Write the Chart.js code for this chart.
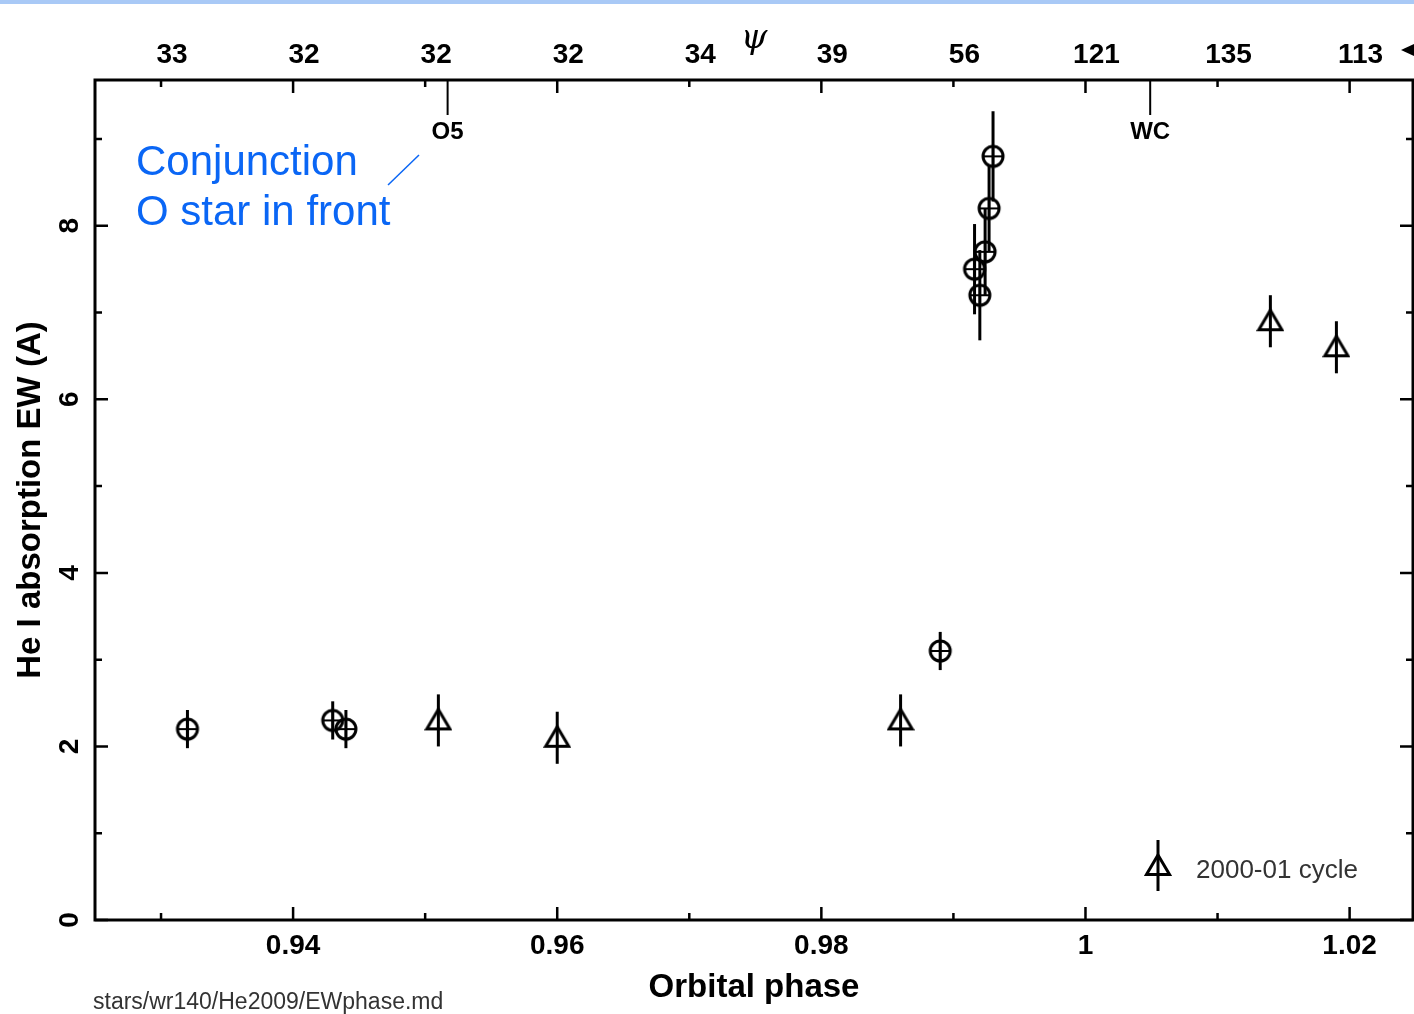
<!DOCTYPE html>
<html>
<head>
<meta charset="utf-8">
<script src="https://cdn.jsdelivr.net/npm/chart.js@4"></script>
<style>
  body { margin: 0; background: #fff; }
  #wrap { width: 1414px; height: 1014px; }
</style>
</head>
<body>
<div id="wrap"><canvas id="ew_phase"></canvas></div>
<script>
// phase ticks, shared by the bottom (phase) and top (psi) axes
const phaseTicks = [0.93, 0.94, 0.95, 0.96, 0.97, 0.98, 0.99, 1.00, 1.01, 1.02];
const phaseLabels = ['', '0.94', '', '0.96', '', '0.98', '', '1', '', '1.02'];
const psiLabels = ['33', '32', '32', '32', '34', '39', '56', '121', '135', '113'];
const ewTicks = [0, 1, 2, 3, 4, 5, 6, 7, 8, 9];
const ewLabels = ['0', '', '2', '', '4', '', '6', '', '8', ''];

// circles (current cycle)
const circPhase = [0.932, 0.943, 0.944, 0.989, 0.9916, 0.992, 0.9924, 0.9927, 0.993];
const circEW    = [2.2, 2.3, 2.2, 3.1, 7.5, 7.2, 7.7, 8.2, 8.8];
const circErr   = [0.22, 0.22, 0.22, 0.22, 0.52, 0.52, 0.5, 0.5, 0.52];

// triangles (2000-01 cycle)
const triPhase = [0.951, 0.960, 0.986, 1.014, 1.019];
const triEW    = [2.3, 2.1, 2.3, 6.9, 6.6];
const triErr   = [0.3, 0.3, 0.3, 0.3, 0.3];

// conjunction markers
const starPhase = [0.9517, 1.0049];
const starLabels = ['O5', 'WC'];

function circleMark() {
    const c = document.createElement('canvas');
    c.width = 28; c.height = 28;
    const g = c.getContext('2d');
    g.strokeStyle = '#000';
    g.lineWidth = 3;
    g.beginPath(); g.arc(14, 14, 10, 0, 2 * Math.PI); g.stroke();
    g.lineWidth = 2.2;
    g.beginPath();
    g.moveTo(3.5, 14); g.lineTo(24.5, 14);
    g.moveTo(14, 3.5); g.lineTo(14, 24.5);
    g.stroke();
    return c;
}
function triangleMark() {
    const c = document.createElement('canvas');
    c.width = 28; c.height = 28;
    const g = c.getContext('2d');
    g.strokeStyle = '#000';
    g.lineWidth = 3;
    g.lineJoin = 'miter';
    g.beginPath();
    g.moveTo(14, 3); g.lineTo(25.5, 22.5); g.lineTo(2.5, 22.5); g.closePath();
    g.stroke();
    return c;
}
const circImg = circleMark();
const triImg = triangleMark();

const toXY = (xs, ys) => xs.map((x, i) => ({ x: x, y: ys[i] }));
const errs = [circErr, triErr];

const frame = {
    id: 'frame',
    beforeDraw(chart) {
        const c = chart.ctx;
        c.save();
        c.fillStyle = '#fff';
        c.fillRect(0, 0, chart.width, chart.height);
        c.fillStyle = '#a9c9f6';
        c.fillRect(0, 0, chart.width, 4);
        c.restore();
    },
    beforeDatasetsDraw(chart) {
        const c = chart.ctx, xs = chart.scales.x, ys = chart.scales.y;
        c.save();
        c.strokeStyle = '#000';
        c.lineWidth = 3;
        chart.data.datasets.forEach((ds, k) => {
            ds.data.forEach((p, i) => {
                const px = xs.getPixelForValue(p.x);
                c.beginPath();
                c.moveTo(px, ys.getPixelForValue(p.y - errs[k][i]));
                c.lineTo(px, ys.getPixelForValue(p.y + errs[k][i]));
                c.stroke();
            });
        });
        c.restore();
    },
    afterDraw(chart) {
        const c = chart.ctx, a = chart.chartArea;
        const xs = chart.scales.x, ys = chart.scales.y;
        c.save();
        c.strokeStyle = '#000';
        c.lineWidth = 3;
        c.strokeRect(a.left, a.top, a.right - a.left, a.bottom - a.top);
        // inward ticks
        c.lineWidth = 2.5;
        c.beginPath();
        phaseTicks.forEach((v, i) => {
            const px = xs.getPixelForValue(v);
            const len = phaseLabels[i] ? 13 : 7;
            c.moveTo(px, a.bottom); c.lineTo(px, a.bottom - len);
            c.moveTo(px, a.top); c.lineTo(px, a.top + len);
        });
        ewTicks.forEach((v, i) => {
            const py = ys.getPixelForValue(v);
            const len = ewLabels[i] ? 13 : 7;
            c.moveTo(a.left, py); c.lineTo(a.left + len, py);
            c.moveTo(a.right, py); c.lineTo(a.right - len, py);
        });
        c.stroke();
        // O5 / WC markers
        c.lineWidth = 2;
        c.fillStyle = '#000';
        c.font = 'bold 24px "Liberation Sans"';
        c.textAlign = 'center';
        c.textBaseline = 'middle';
        starPhase.forEach((v, i) => {
            const px = xs.getPixelForValue(v);
            c.beginPath(); c.moveTo(px, a.top); c.lineTo(px, a.top + 35); c.stroke();
            c.fillText(starLabels[i], px, a.top + 52);
        });
        // arrow at top right
        c.beginPath();
        c.moveTo(1401, 50); c.lineTo(1414, 44); c.lineTo(1414, 56); c.closePath();
        c.fill();
        // legend
        c.drawImage(triImg, 1158 - 14, 866 - 14);
        c.lineWidth = 3;
        c.beginPath(); c.moveTo(1158, 840); c.lineTo(1158, 891); c.stroke();
        c.fillStyle = '#333';
        c.font = '26px "Liberation Sans"';
        c.textAlign = 'left';
        c.fillText('2000-01 cycle', 1196, 871);
        // annotation
        c.fillStyle = '#0a66f5';
        c.strokeStyle = '#0a66f5';
        c.font = '42px "Liberation Sans"';
        c.fillText('Conjunction', 136, 163);
        c.fillText('O star in front', 136, 213);
        c.lineWidth = 1.5;
        c.beginPath(); c.moveTo(388, 185); c.lineTo(419, 155); c.stroke();
        // footer
        c.fillStyle = '#333';
        c.font = '23px "Liberation Sans"';
        c.fillText('stars/wr140/He2009/EWphase.md', 93, 1003);
        c.restore();
    }
};

const setTicks = vals => scale => { scale.ticks = vals.map(v => ({ value: v })); };
const fitX = h => s => { s.height = h; s.paddingLeft = 0; s.paddingRight = 0; };
const tickFont = { family: 'Liberation Sans', size: 28, weight: 'bold' };
const titleFont = { family: 'Liberation Sans', size: 33, weight: 'bold' };

const ctx = document.getElementById('ew_phase');
const chart = new Chart(ctx, {
    type: 'scatter',
    data: {
        datasets: [{
            label: 'this cycle',
            data: toXY(circPhase, circEW),
            pointStyle: circImg,
            pointRadius: 10,
        }, {
            label: '2000-01 cycle',
            data: toXY(triPhase, triEW),
            pointStyle: triImg,
            pointRadius: 10,
        }],
    },
    options: {
        responsive: true,
        maintainAspectRatio: false,
        animation: false,
        layout: { autoPadding: false, padding: { left: 0, right: 1, top: 0, bottom: 0 } },
        scales: {
            x: {
                type: 'linear', position: 'bottom', min: 0.925, max: 1.0248,
                afterBuildTicks: setTicks(phaseTicks),
                afterFit: fitX(94),
                grid: { display: false },
                border: { display: false },
                ticks: {
                    color: '#000', font: tickFont, padding: 1, maxRotation: 0,
                    autoSkip: false,
                    callback: (v, i) => phaseLabels[i],
                },
                title: { display: true, text: 'Orbital phase', color: '#000', font: titleFont, padding: { top: 0, bottom: 6 } },
            },
            x2: {
                type: 'linear', position: 'top', min: 0.925, max: 1.0248,
                afterBuildTicks: setTicks(phaseTicks),
                afterFit: fitX(80),
                grid: { display: false },
                border: { display: false },
                ticks: {
                    color: '#000', font: tickFont, padding: 0, maxRotation: 0,
                    autoSkip: false, labelOffset: 11,
                    callback: (v, i) => psiLabels[i],
                },
                title: { display: true, text: 'ψ', color: '#000', font: { family: 'DejaVu Serif', size: 34, style: 'italic' }, padding: { top: 19, bottom: 0 } },
            },
            y: {
                type: 'linear', position: 'left', min: 0, max: 9.68,
                afterBuildTicks: setTicks(ewTicks),
                afterFit: s => { s.width = 95; },
                grid: { display: false },
                border: { display: false },
                ticks: {
                    color: '#000', font: tickFont, padding: 9,
                    minRotation: 90, maxRotation: 90, crossAlign: 'center',
                    autoSkip: false,
                    callback: (v, i) => ewLabels[i],
                },
                title: { display: true, text: 'He I absorption EW (A)', color: '#000', font: titleFont, padding: { top: 11, bottom: 0 } },
            },
        },
        plugins: {
            legend: { display: false },
            tooltip: { enabled: false },
        },
    },
    plugins: [frame],
});
</script>
</body>
</html>
